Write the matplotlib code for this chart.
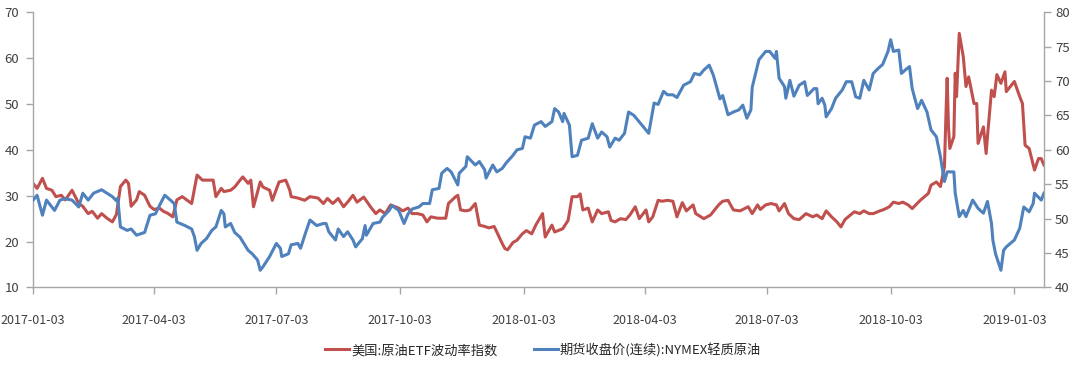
import numpy as np
import pandas as pd
import matplotlib
matplotlib.use('Agg')
import matplotlib.pyplot as plt
import matplotlib.dates as mdates

plt.rcParams['font.family'] = ['Noto Sans CJK SC', 'DejaVu Sans']

# 美国:原油ETF波动率指数 (left axis)
vol_dates = [
    '2017-01-03', '2017-01-06', '2017-01-10', '2017-01-13', '2017-01-17', '2017-01-20',
    '2017-01-24', '2017-01-27', '2017-02-01', '2017-02-06', '2017-02-09', '2017-02-13',
    '2017-02-16', '2017-02-20', '2017-02-23', '2017-02-27', '2017-03-03', '2017-03-06',
    '2017-03-09', '2017-03-13', '2017-03-15', '2017-03-17', '2017-03-21', '2017-03-23',
    '2017-03-27', '2017-03-31', '2017-04-03', '2017-04-07', '2017-04-10', '2017-04-13',
    '2017-04-17', '2017-04-20', '2017-04-24', '2017-05-01', '2017-05-05', '2017-05-09',
    '2017-05-17', '2017-05-19', '2017-05-23', '2017-05-25', '2017-05-30', '2017-06-02',
    '2017-06-06', '2017-06-08', '2017-06-12', '2017-06-14', '2017-06-16', '2017-06-21',
    '2017-06-23', '2017-06-28', '2017-06-30', '2017-07-05', '2017-07-10', '2017-07-13',
    '2017-07-14', '2017-07-19', '2017-07-24', '2017-07-28', '2017-08-03', '2017-08-07',
    '2017-08-10', '2017-08-14', '2017-08-18', '2017-08-22', '2017-08-25', '2017-08-29',
    '2017-09-01', '2017-09-06', '2017-09-11', '2017-09-15', '2017-09-18', '2017-09-22',
    '2017-09-26', '2017-10-02', '2017-10-05', '2017-10-09', '2017-10-12', '2017-10-16',
    '2017-10-20', '2017-10-23', '2017-10-26', '2017-10-31', '2017-11-06', '2017-11-08',
    '2017-11-13', '2017-11-15', '2017-11-17', '2017-11-21', '2017-11-24', '2017-11-28',
    '2017-12-01', '2017-12-05', '2017-12-08', '2017-12-12', '2017-12-14', '2017-12-18',
    '2017-12-20', '2017-12-22', '2017-12-26', '2017-12-29', '2018-01-02', '2018-01-05',
    '2018-01-09', '2018-01-12', '2018-01-17', '2018-01-19', '2018-01-24', '2018-01-26',
    '2018-02-01', '2018-02-05', '2018-02-08', '2018-02-12', '2018-02-14', '2018-02-16',
    '2018-02-20', '2018-02-23', '2018-02-27', '2018-03-02', '2018-03-07', '2018-03-09',
    '2018-03-12', '2018-03-16', '2018-03-20', '2018-03-23', '2018-03-27', '2018-03-30',
    '2018-04-04', '2018-04-06', '2018-04-09', '2018-04-13', '2018-04-16', '2018-04-20',
    '2018-04-24', '2018-04-27', '2018-05-01', '2018-05-04', '2018-05-09', '2018-05-11',
    '2018-05-17', '2018-05-22', '2018-05-28', '2018-05-31', '2018-06-04', '2018-06-08',
    '2018-06-13', '2018-06-19', '2018-06-22', '2018-06-26', '2018-06-28', '2018-07-02',
    '2018-07-06', '2018-07-10', '2018-07-12', '2018-07-16', '2018-07-19', '2018-07-23',
    '2018-07-27', '2018-08-01', '2018-08-06', '2018-08-09', '2018-08-13', '2018-08-16',
    '2018-08-20', '2018-08-24', '2018-08-27', '2018-08-30', '2018-09-03', '2018-09-06',
    '2018-09-10', '2018-09-13', '2018-09-17', '2018-09-20', '2018-09-25', '2018-09-28',
    '2018-10-02', '2018-10-05', '2018-10-09', '2018-10-12', '2018-10-16', '2018-10-19',
    '2018-10-25', '2018-10-31', '2018-11-02', '2018-11-06', '2018-11-09', '2018-11-12',
    '2018-11-13', '2018-11-14', '2018-11-15', '2018-11-16', '2018-11-19', '2018-11-20',
    '2018-11-21', '2018-11-23', '2018-11-26', '2018-11-28', '2018-11-30', '2018-12-04',
    '2018-12-06', '2018-12-07', '2018-12-11', '2018-12-13', '2018-12-14', '2018-12-17',
    '2018-12-19', '2018-12-21', '2018-12-24', '2018-12-27', '2018-12-28', '2019-01-03',
    '2019-01-07', '2019-01-09', '2019-01-11', '2019-01-14', '2019-01-18', '2019-01-21',
    '2019-01-23', '2019-01-25',
]
vol_values = [
    32.7, 31.6, 33.8, 31.6, 31.2, 29.8, 30.1, 29.1, 31.2, 28.3, 27.7, 26.1,
    26.6, 25.1, 26.1, 25.1, 24.3, 25.9, 32.0, 33.4, 32.7, 27.7, 29.1, 30.9,
    30.1, 27.7, 27.0, 27.3, 26.6, 26.2, 25.4, 29.1, 29.8, 28.3, 34.5, 33.4,
    33.4, 29.8, 31.6, 30.9, 31.2, 31.9, 33.4, 34.1, 32.7, 33.4, 27.6, 33.0,
    31.9, 31.2, 29.0, 33.0, 33.4, 31.2, 29.8, 29.5, 29.0, 29.8, 29.5, 28.3,
    29.4, 28.3, 29.4, 27.6, 28.6, 30.1, 28.6, 29.7, 27.6, 26.1, 26.9, 26.1,
    28.0, 27.3, 26.7, 27.3, 26.1, 26.1, 25.8, 24.3, 25.4, 25.1, 25.1, 28.3,
    29.7, 30.1, 26.9, 26.7, 26.9, 28.3, 23.6, 23.3, 23.0, 23.3, 22.1, 19.6,
    18.5, 18.2, 19.8, 20.3, 21.7, 22.4, 21.7, 23.6, 26.1, 21.0, 23.6, 22.1,
    22.8, 24.6, 29.8, 29.8, 30.4, 26.9, 27.3, 24.3, 26.9, 26.1, 26.5, 24.6,
    24.3, 25.0, 24.8, 25.8, 27.6, 25.0, 26.9, 24.3, 25.4, 29.0, 28.8, 29.0,
    28.8, 25.4, 28.5, 26.7, 28.0, 26.1, 25.0, 25.8, 28.0, 28.8, 29.0, 26.9,
    26.7, 27.6, 26.1, 28.0, 27.0, 28.0, 28.3, 28.0, 26.7, 28.3, 26.1, 25.0,
    24.8, 26.1, 25.4, 25.8, 25.0, 26.7, 25.4, 24.3, 23.2, 24.8, 25.8, 26.5,
    26.1, 26.7, 26.1, 26.1, 26.7, 27.0, 27.6, 28.6, 28.3, 28.6, 28.0, 27.2,
    29.0, 30.5, 32.3, 33.0, 32.0, 36.3, 46.5, 55.6, 45.0, 40.3, 42.9, 56.7,
    51.6, 65.4, 60.3, 53.8, 55.9, 50.1, 50.1, 41.4, 45.0, 39.2, 42.9, 53.0,
    51.6, 56.4, 54.5, 57.0, 52.7, 54.9, 51.6, 50.1, 41.0, 40.3, 35.6, 38.1,
    38.1, 36.7,
]

# 期货收盘价(连续):NYMEX轻质原油 (right axis)
oil_dates = [
    '2017-01-03', '2017-01-06', '2017-01-10', '2017-01-13', '2017-01-19', '2017-01-23',
    '2017-01-27', '2017-02-01', '2017-02-06', '2017-02-09', '2017-02-13', '2017-02-17',
    '2017-02-23', '2017-02-27', '2017-03-03', '2017-03-06', '2017-03-07', '2017-03-09',
    '2017-03-14', '2017-03-17', '2017-03-21', '2017-03-24', '2017-03-27', '2017-03-31',
    '2017-04-04', '2017-04-07', '2017-04-11', '2017-04-14', '2017-04-18', '2017-04-20',
    '2017-04-26', '2017-05-01', '2017-05-03', '2017-05-05', '2017-05-08', '2017-05-12',
    '2017-05-16', '2017-05-19', '2017-05-23', '2017-05-25', '2017-05-26', '2017-05-30',
    '2017-06-02', '2017-06-06', '2017-06-12', '2017-06-15', '2017-06-19', '2017-06-21',
    '2017-06-23', '2017-06-28', '2017-07-03', '2017-07-06', '2017-07-07', '2017-07-12',
    '2017-07-14', '2017-07-19', '2017-07-21', '2017-07-25', '2017-07-28', '2017-08-02',
    '2017-08-07', '2017-08-09', '2017-08-11', '2017-08-16', '2017-08-18', '2017-08-22',
    '2017-08-25', '2017-08-29', '2017-08-31', '2017-09-05', '2017-09-07', '2017-09-08',
    '2017-09-13', '2017-09-18', '2017-09-20', '2017-09-25', '2017-09-27', '2017-10-02',
    '2017-10-05', '2017-10-06', '2017-10-09', '2017-10-12', '2017-10-17', '2017-10-20',
    '2017-10-25', '2017-10-27', '2017-11-01', '2017-11-03', '2017-11-07', '2017-11-10',
    '2017-11-15', '2017-11-16', '2017-11-21', '2017-11-22', '2017-11-28', '2017-12-01',
    '2017-12-05', '2017-12-06', '2017-12-11', '2017-12-14', '2017-12-18', '2017-12-21',
    '2017-12-26', '2017-12-29', '2018-01-02', '2018-01-04', '2018-01-08', '2018-01-11',
    '2018-01-16', '2018-01-19', '2018-01-24', '2018-01-26', '2018-01-29', '2018-02-01',
    '2018-02-02', '2018-02-06', '2018-02-08', '2018-02-12', '2018-02-15', '2018-02-20',
    '2018-02-23', '2018-02-27', '2018-03-02', '2018-03-06', '2018-03-08', '2018-03-12',
    '2018-03-15', '2018-03-19', '2018-03-22', '2018-03-26', '2018-03-29', '2018-04-03',
    '2018-04-06', '2018-04-10', '2018-04-13', '2018-04-17', '2018-04-20', '2018-04-24',
    '2018-04-27', '2018-05-02', '2018-05-07', '2018-05-10', '2018-05-14', '2018-05-17',
    '2018-05-21', '2018-05-24', '2018-05-29', '2018-05-31', '2018-06-04', '2018-06-08',
    '2018-06-12', '2018-06-15', '2018-06-18', '2018-06-21', '2018-06-22', '2018-06-27',
    '2018-07-02', '2018-07-05', '2018-07-09', '2018-07-10', '2018-07-12', '2018-07-16',
    '2018-07-17', '2018-07-20', '2018-07-23', '2018-07-27', '2018-07-31', '2018-08-02',
    '2018-08-07', '2018-08-09', '2018-08-10', '2018-08-13', '2018-08-15', '2018-08-16',
    '2018-08-20', '2018-08-23', '2018-08-28', '2018-08-31', '2018-09-04', '2018-09-07',
    '2018-09-10', '2018-09-13', '2018-09-17', '2018-09-20', '2018-09-24', '2018-09-27',
    '2018-10-01', '2018-10-03', '2018-10-05', '2018-10-09', '2018-10-11', '2018-10-15',
    '2018-10-17', '2018-10-19', '2018-10-23', '2018-10-26', '2018-10-30', '2018-11-02',
    '2018-11-06', '2018-11-09', '2018-11-12', '2018-11-14', '2018-11-19', '2018-11-20',
    '2018-11-23', '2018-11-26', '2018-11-28', '2018-12-03', '2018-12-07', '2018-12-11',
    '2018-12-14', '2018-12-17', '2018-12-18', '2018-12-20', '2018-12-24', '2018-12-26',
    '2018-12-28', '2019-01-03', '2019-01-07', '2019-01-10', '2019-01-14', '2019-01-17',
    '2019-01-18', '2019-01-23', '2019-01-25',
]
oil_values = [
    52.7, 53.4, 50.5, 52.7, 51.2, 52.7, 52.9, 52.7, 51.7, 53.7, 52.7, 53.7,
    54.2, 53.7, 53.2, 52.6, 53.0, 48.8, 48.3, 48.5, 47.6, 47.8, 48.0, 50.5,
    50.7, 51.9, 53.4, 52.9, 52.2, 49.5, 49.0, 48.5, 47.4, 45.4, 46.4, 47.1,
    48.3, 48.8, 51.2, 50.7, 48.8, 49.3, 48.0, 47.3, 45.4, 44.9, 44.0, 42.5,
    43.0, 44.5, 46.4, 45.7, 44.5, 44.9, 46.2, 46.4, 45.7, 48.1, 49.8, 49.0,
    49.3, 49.3, 48.1, 46.9, 48.5, 47.4, 48.1, 46.9, 45.9, 47.1, 49.0, 47.6,
    49.3, 49.5, 50.2, 51.2, 51.9, 51.2, 49.8, 49.3, 50.7, 51.4, 51.7, 52.2,
    52.2, 54.2, 54.4, 56.6, 57.3, 56.8, 54.9, 56.6, 57.6, 59.0, 57.8, 58.3,
    57.1, 55.9, 57.8, 56.8, 57.3, 58.1, 59.2, 60.0, 60.2, 61.9, 61.7, 63.6,
    64.1, 63.4, 64.1, 66.0, 65.5, 64.1, 65.3, 63.6, 59.0, 59.2, 61.4, 61.7,
    63.8, 61.7, 62.6, 61.9, 60.4, 61.7, 61.4, 62.4, 65.5, 65.0, 64.3, 63.1,
    62.4, 66.8, 66.6, 68.5, 68.0, 68.0, 67.6, 69.4, 69.9, 71.1, 70.9, 71.6,
    72.3, 70.9, 67.4, 67.9, 65.1, 65.5, 65.8, 66.5, 64.6, 65.8, 69.1, 73.1,
    74.3, 74.3, 73.3, 74.3, 70.4, 69.2, 67.5, 70.1, 67.8, 69.4, 69.9, 67.9,
    68.9, 68.9, 66.7, 67.5, 66.5, 64.8, 66.0, 67.5, 68.7, 69.9, 69.9, 67.7,
    67.5, 70.1, 68.7, 71.1, 71.9, 72.4, 74.3, 76.0, 74.3, 74.5, 71.1, 71.8,
    72.1, 68.9, 66.0, 67.2, 65.5, 62.9, 61.9, 59.0, 55.4, 56.8, 56.8, 53.7,
    50.3, 51.2, 50.3, 52.7, 51.5, 50.8, 52.5, 49.3, 46.9, 44.9, 42.5, 45.4,
    45.9, 46.9, 48.6, 51.7, 51.0, 52.2, 53.7, 52.7, 53.7,
]

tick_dates = ['2017-01-03', '2017-04-03', '2017-07-03', '2017-10-03', '2018-01-03',
              '2018-04-03', '2018-07-03', '2018-10-03', '2019-01-03']

vol_label = '美国:原油ETF波动率指数'
oil_label = '期货收盘价(连续):NYMEX轻质原油'

red = '#C0504D'
blue = '#4F81BD'
axis_grey = '#A6A6A6'
text_grey = '#404040'

vol_x = pd.to_datetime(vol_dates)
oil_x = pd.to_datetime(oil_dates)

fig = plt.figure(figsize=(10.8, 3.7), dpi=100)
ax = fig.add_axes([0.0306, 0.223, 0.936, 0.744])
ax2 = ax.twinx()

l1, = ax.plot(vol_x, vol_values, color=red, lw=2.2, label=vol_label,
              solid_joinstyle='round')
l2, = ax2.plot(oil_x, oil_values, color=blue, lw=2.2, label=oil_label,
               solid_joinstyle='round')

ax.set_xlim(pd.Timestamp('2017-01-03'), pd.Timestamp('2019-01-25'))
ax.set_ylim(10, 70)
ax.set_yticks(np.arange(10, 71, 10))
ax2.set_ylim(40, 80)
ax2.set_yticks(np.arange(40, 81, 5))

ax.set_xticks(pd.to_datetime(tick_dates))
ax.xaxis.set_major_formatter(mdates.DateFormatter('%Y-%m-%d'))

for a in (ax, ax2):
    a.spines['top'].set_visible(False)
    for s in ('left', 'right', 'bottom'):
        a.spines[s].set_color(axis_grey)
        a.spines[s].set_linewidth(1.0)
ax.spines['right'].set_visible(False)
ax2.spines['left'].set_visible(False)
ax2.spines['bottom'].set_visible(False)

ax.tick_params(axis='x', direction='out', length=5, width=1, color=axis_grey,
               labelsize=9, labelcolor=text_grey, pad=14)
ax.tick_params(axis='y', direction='out', length=5, width=1, color=axis_grey,
               labelsize=9.5, labelcolor=text_grey, pad=5)
ax2.tick_params(axis='y', direction='out', length=5, width=1, color=axis_grey,
                labelsize=9.5, labelcolor=text_grey, pad=3)

fig.legend(handles=[l1, l2], loc='center', bbox_to_anchor=(0.503, 0.054),
           ncol=2, frameon=False, fontsize=9.5, handlelength=1.8,
           handletextpad=0.15, columnspacing=2.8, labelcolor='#262626')

fig.savefig('out.png', dpi=100)
